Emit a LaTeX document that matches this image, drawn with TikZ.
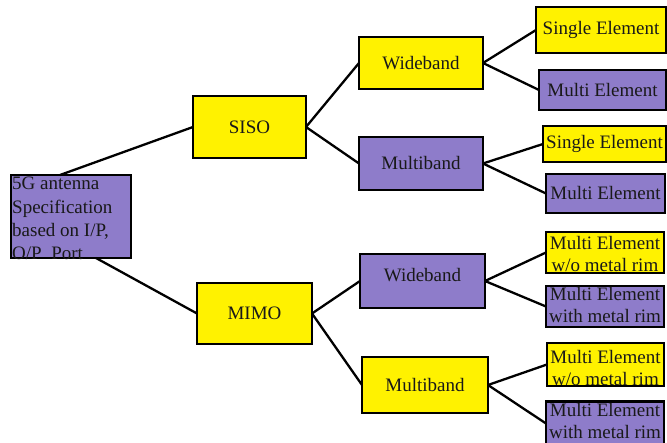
\documentclass[tikz,border=0pt]{standalone}
\usepackage{fontspec}
\setmainfont{Liberation Serif}
\usetikzlibrary{calc}
\definecolor{yel}{RGB}{255,242,0}
\definecolor{pur}{RGB}{142,124,202}
\begin{document}
\begin{tikzpicture}[x=1pt,y=-1pt,
  box/.style={draw=black,line width=2.6pt,inner sep=0pt,outer sep=0pt},
  ybox/.style={box,fill=yel},
  pbox/.style={box,fill=pur},
  txt/.style={inner sep=0pt,align=center,font=\fontsize{19}{22}\selectfont,text=black!90},
  rtxt/.style={inner sep=0pt,align=left,font=\fontsize{19}{23.3}\selectfont,text=black!90},
  ttxt/.style={inner sep=0pt,align=center,font=\fontsize{19}{22}\selectfont,text=black!90},
  conn/.style={draw=black,line width=2.3pt}]
\useasboundingbox (0,0) rectangle (667,443);
% boxes
\node[pbox,minimum width=120pt,minimum height=83pt] (root) at (71,216.5) {};
\node[ybox,minimum width=113pt,minimum height=62pt] (siso) at (249.5,127) {};
\node[ybox,minimum width=115pt,minimum height=61pt] (mimo) at (254.5,313.5) {};
\node[ybox,minimum width=124pt,minimum height=52pt] (w1) at (421,63) {};
\node[pbox,minimum width=124pt,minimum height=53pt] (m1) at (421,163.5) {};
\node[pbox,minimum width=125pt,minimum height=54pt] (w2) at (422.5,281) {};
\node[ybox,minimum width=126pt,minimum height=56pt] (m2) at (425,385) {};
\node[ybox,minimum width=130pt,minimum height=46pt] (l1) at (601,30) {};
\node[pbox,minimum width=127pt,minimum height=40pt] (l2) at (602.5,90) {};
\node[ybox,minimum width=123pt,minimum height=36pt] (l3) at (604.5,144) {};
\node[pbox,minimum width=119pt,minimum height=39pt] (l4) at (605.5,193.5) {};
\node[ybox,minimum width=118pt,minimum height=41pt] (l5) at (605,252.5) {};
\node[pbox,minimum width=118pt,minimum height=41pt] (l6) at (605,306.5) {};
\node[ybox,minimum width=117pt,minimum height=43pt] (l7) at (605.5,364.5) {};
\node[pbox,minimum width=118pt,minimum height=44pt] (l8) at (605,423.5) {};
% texts
\node[rtxt,anchor=north west] (roott) at (12,177) {5G antenna\\Specification\\based on I/P,\\O/P\ \ Port};
\node[txt] (sisot) at (siso) {SISO};
\node[txt] (mimot) at (mimo) {MIMO};
\node[txt] (w1t) at (w1) {Wideband};
\node[txt] (m1t) at (m1) {Multiband};
\node[txt] (w2t) at ([yshift=6pt]w2) {Wideband};
\node[txt] (m2t) at (m2) {Multiband};
\node[txt] (l1t) at (l1) {Single Element};
\node[txt] (l2t) at (l2) {Multi Element};
\node[txt] (l3t) at (l3) {Single Element};
\node[txt] (l4t) at (l4) {Multi Element};
\node[ttxt] (l5t) at ([yshift=-2pt]l5) {Multi Element\\w/o metal rim};
\node[ttxt] (l6t) at ([yshift=1pt]l6) {Multi Element\\with metal rim};
\node[ttxt] (l7t) at ([yshift=-4pt]l7) {Multi Element\\w/o metal rim};
\node[ttxt] (l8t) at ([yshift=2pt]l8) {Multi Element\\with metal rim};
% connectors
\draw[conn] ([xshift=-11pt]root.north) -- (siso.west);
\draw[conn] ([xshift=25pt]root.south) -- (mimo.west);
\draw[conn] (siso.east) -- (w1.west);
\draw[conn] (siso.east) -- (m1.west);
\draw[conn] (mimo.east) -- (w2.west);
\draw[conn] (mimo.east) -- (m2.west);
\draw[conn] (w1.east) -- (l1.west);
\draw[conn] (w1.east) -- (l2.west);
\draw[conn] (m1.east) -- (l3.west);
\draw[conn] (m1.east) -- (l4.west);
\draw[conn] (w2.east) -- (l5.west);
\draw[conn] (w2.east) -- (l6.west);
\draw[conn] (m2.east) -- (l7.west);
\draw[conn] (m2.east) -- (l8.west);
\end{tikzpicture}
\end{document}
